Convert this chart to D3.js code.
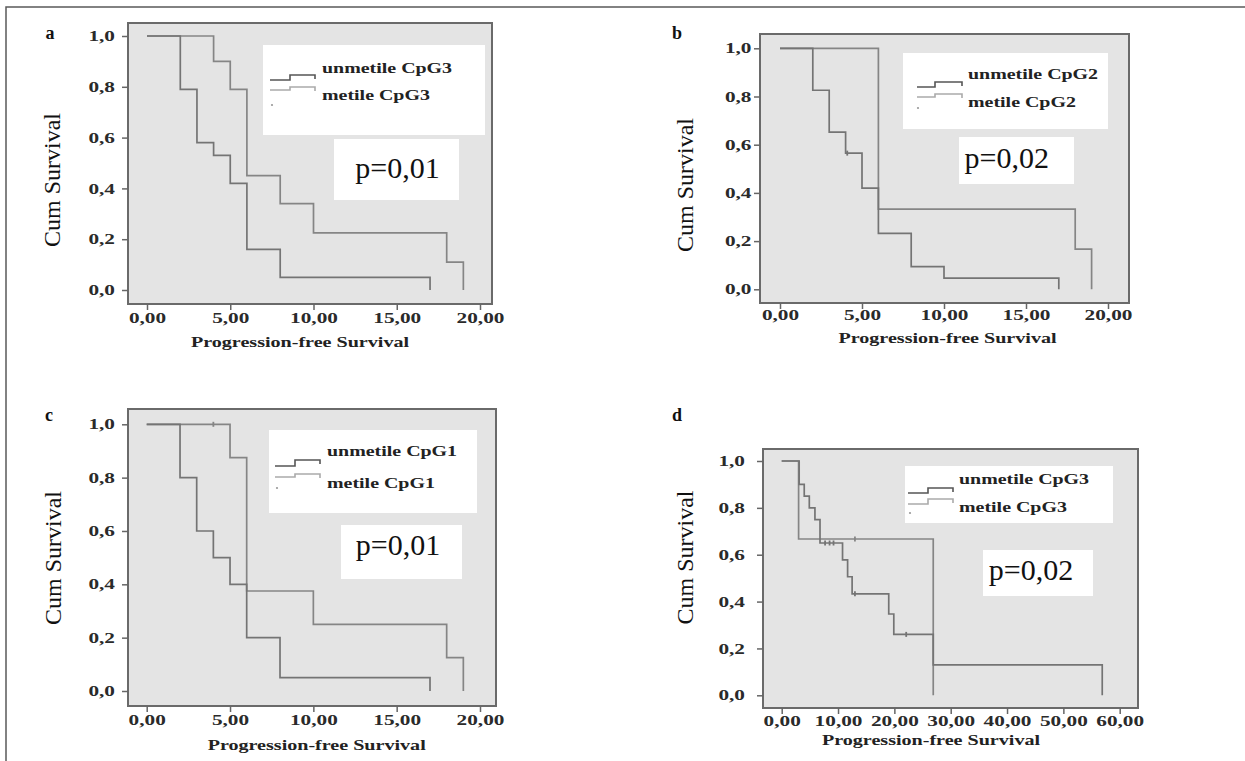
<!DOCTYPE html>
<html><head><meta charset="utf-8">
<script src="https://cdn.jsdelivr.net/npm/d3@7"></script>
<style>body{margin:0;background:#fff}svg{display:block}</style>
</head><body>
<svg id="chart" width="1245" height="761"></svg>
<script>
// ---------- DATA ----------
const panelIds = ["a", "b", "c", "d"];
const legendUnmet = ["unmetile CpG3", "unmetile CpG2", "unmetile CpG1", "unmetile CpG3"];
const legendMet = ["metile CpG3", "metile CpG2", "metile CpG1", "metile CpG3"];
const pLabels = ["p=0,01", "p=0,02", "p=0,01", "p=0,02"];
const yTicks = [0, 0.2, 0.4, 0.6, 0.8, 1.0];
const yTickLabels = ["0,0", "0,2", "0,4", "0,6", "0,8", "1,0"];
const xTicks20 = [0, 5, 10, 15, 20];
const xTickLabels20 = ["0,00", "5,00", "10,00", "15,00", "20,00"];
const xTicks60 = [0, 10, 20, 30, 40, 50, 60];
const xTickLabels60 = ["0,00", "10,00", "20,00", "30,00", "40,00", "50,00", "60,00"];
const xTitle = "Progression-free Survival";
const yTitle = "Cum Survival";

// panel a
const aUnmetTimes = [2, 3, 4, 5, 6, 8, 17];
const aUnmetSurv  = [0.79, 0.58, 0.53, 0.42, 0.16, 0.05, 0];
const aMetTimes   = [4, 5, 6, 8, 10, 18, 19];
const aMetSurv    = [0.90, 0.79, 0.45, 0.34, 0.225, 0.11, 0];
// panel b
const bUnmetTimes = [2, 3, 4, 5, 6, 8, 10, 17];
const bUnmetSurv  = [0.826, 0.652, 0.565, 0.42, 0.232, 0.094, 0.046, 0];
const bMetTimes   = [6, 18, 19];
const bMetSurv    = [0.333, 0.167, 0];
const bUnmetCensT = [4.1];
const bUnmetCensS = [0.565];
// panel c
const cUnmetTimes = [2, 3, 4, 5, 6, 8, 17];
const cUnmetSurv  = [0.8, 0.6, 0.5, 0.4, 0.2, 0.05, 0];
const cMetTimes   = [5, 6, 10, 18, 19];
const cMetSurv    = [0.875, 0.375, 0.25, 0.125, 0];
const cMetCensT   = [4];
const cMetCensS   = [1.0];
// panel d
const dUnmetTimes = [3.1, 4, 4.9, 5.9, 6.8, 10.8, 11.7, 12.5, 19, 19.9, 26.9, 56.9];
const dUnmetSurv  = [0.9, 0.85, 0.8, 0.75, 0.65, 0.578, 0.506, 0.433, 0.347, 0.26, 0.13, 0];
const dUnmetCensT = [7.7, 8.5, 9.2, 13.0, 22.1];
const dUnmetCensS = [0.65, 0.65, 0.65, 0.433, 0.26];
const dMetTimes   = [3.0, 26.9];
const dMetSurv    = [0.667, 0];
const dMetCensT   = [13.0];
const dMetCensS   = [0.667];

const series = {
  a: {unmet: [aUnmetTimes, aUnmetSurv, [], []], met: [aMetTimes, aMetSurv, [], []]},
  b: {unmet: [bUnmetTimes, bUnmetSurv, bUnmetCensT, bUnmetCensS], met: [bMetTimes, bMetSurv, [], []]},
  c: {unmet: [cUnmetTimes, cUnmetSurv, [], []], met: [cMetTimes, cMetSurv, cMetCensT, cMetCensS]},
  d: {unmet: [dUnmetTimes, dUnmetSurv, dUnmetCensT, dUnmetCensS], met: [dMetTimes, dMetSurv, dMetCensT, dMetCensS]}
};

// ---------- LAYOUT ----------
const layouts = {
  a: {frame:[128,23,492,304], xr:[147,480], yr:[290,36], xmax:20, letter:[50,39], ylab:[52,180],
      xtitle:[300,346.5], ygap:13, xlab:18.5,
      leg:[263,45,485,135], legTx:322, legB:[73,100], sym:[270,290,315], s1:[80,75], s2:[90,87], dot:[272,105],
      pbox:[334,139,459,200], ptx:[397.5,178]},
  b: {frame:[760,34,1129,303], xr:[780,1108], yr:[289.3,48.3], xmax:20, letter:[677,39], ylab:[685,185],
      xtitle:[947.5,343], ygap:8.5, xlab:17,
      leg:[903,53,1108,129], legTx:968, legB:[79,107], sym:[917,935,962], s1:[87,82], s2:[97,94], dot:[918,108],
      pbox:[959,137,1074,184], ptx:[1006.7,168]},
  c: {frame:[128,409,496,706], xr:[146.7,480], yr:[691,424.3], xmax:20, letter:[49,421], ylab:[52.5,558],
      xtitle:[316.7,750], ygap:13, xlab:18.5,
      leg:[269,430,477,513], legTx:327, legB:[456,488], sym:[275,295,320], s1:[466,460], s2:[477,474], dot:[277,488],
      pbox:[341,525,462,579], ptx:[398,555]},
  d: {frame:[763,449,1138,708], xr:[781.7,1119.7], yr:[695.3,461], xmax:60, letter:[677,421], ylab:[685,557.5],
      xtitle:[931,745], ygap:18, xlab:18,
      leg:[905,466,1113,523], legTx:959, legB:[484,512], sym:[908,928,953], s1:[493,488], s2:[504,499], dot:[910,513],
      pbox:[983,550,1093,596], ptx:[1031,580]}
};

const serif = '"Liberation Serif","Times New Roman",serif';
const svg = d3.select("#chart");

// outer border
svg.append("path").attr("d", "M6,761 V7 H1245").attr("fill", "none")
  .attr("stroke", "#5a5a5a").attr("stroke-width", 1.5);

panelIds.forEach((id, i) => {
  const L = layouts[id];
  const g = svg.append("g");
  const [fx0, fy0, fx1, fy1] = L.frame;
  const x = d3.scaleLinear().domain([0, L.xmax]).range(L.xr);
  const y = d3.scaleLinear().domain([0, 1]).range(L.yr);

  // plot background + frame
  g.append("rect").attr("x", fx0).attr("y", fy0).attr("width", fx1 - fx0).attr("height", fy1 - fy0)
    .attr("fill", "#e4e4e4").attr("stroke", "#6a6a6a").attr("stroke-width", 2);

  // axes
  const xt = id === "d" ? xTicks60 : xTicks20;
  const xl = id === "d" ? xTickLabels60 : xTickLabels20;
  const yAx = g.append("g").attr("transform", `translate(${fx0},0)`)
    .call(d3.axisLeft(y).tickValues(yTicks).tickFormat((d, k) => yTickLabels[k]).tickSize(6).tickSizeOuter(0));
  const xAx = g.append("g").attr("transform", `translate(0,${fy1})`)
    .call(d3.axisBottom(x).tickValues(xt).tickFormat((d, k) => xl[k]).tickSize(6).tickSizeOuter(0));
  [yAx, xAx].forEach(a => {
    a.select(".domain").remove();
    a.selectAll(".tick line").attr("stroke", "#666").attr("stroke-width", 1.5);
    a.selectAll("text").attr("font-family", serif).attr("font-weight", "bold")
      .attr("font-size", 14).attr("fill", "#2a2a2a");
  });
  yAx.selectAll("text").attr("x", 0).attr("dy", "0.33em")
    .attr("transform", `translate(${-L.ygap},0) scale(1.52,1)`);
  xAx.selectAll("text").attr("y", 0).attr("dy", 0)
    .attr("transform", `translate(0,${L.xlab}) scale(1.52,1)`);

  // legend box
  const [lx0, ly0, lx1, ly1] = L.leg;
  g.append("rect").attr("x", lx0).attr("y", ly0).attr("width", lx1 - lx0).attr("height", ly1 - ly0).attr("fill", "#fff");
  const [sx0, sxm, sx1] = L.sym;
  g.append("path").attr("d", `M${sx0},${L.s1[0]} H${sxm} V${L.s1[1]} H${sx1} V${L.s1[1] + 4}`)
    .attr("fill", "none").attr("stroke", "#555").attr("stroke-width", 1.6);
  g.append("path").attr("d", `M${sx0},${L.s2[0]} H${sxm} V${L.s2[1]} H${sx1} V${L.s2[1] + 4}`)
    .attr("fill", "none").attr("stroke", "#aaa").attr("stroke-width", 1.6);
  g.append("circle").attr("cx", L.dot[0]).attr("cy", L.dot[1]).attr("r", 1.1).attr("fill", "#999");
  [legendUnmet[i], legendMet[i]].forEach((t, k) => {
    g.append("text").attr("font-family", serif).attr("font-weight", "bold").attr("font-size", 15)
      .attr("fill", "#222")
      .attr("transform", `translate(${L.legTx},${L.legB[k]}) scale(1.33,1)`).text(t);
  });

  // p-value box
  const [px0, py0, px1, py1] = L.pbox;
  g.append("rect").attr("x", px0).attr("y", py0).attr("width", px1 - px0).attr("height", py1 - py0).attr("fill", "#fff");
  g.append("text").attr("x", L.ptx[0]).attr("y", L.ptx[1]).attr("text-anchor", "middle")
    .attr("font-family", serif).attr("font-size", 30).attr("fill", "#111").text(pLabels[i]);

  // survival curves
  const line = d3.line().x(d => x(d[0])).y(d => y(d[1])).curve(d3.curveStepAfter);
  const cols = {unmet: "#747474", met: "#858585"};
  ["met", "unmet"].forEach(key => {
    const [T, S, CT, CS] = series[id][key];
    const pts = [[0, 1]].concat(T.map((t, k) => [t, S[k]]));
    g.append("path").attr("d", line(pts)).attr("fill", "none")
      .attr("stroke", cols[key]).attr("stroke-width", 1.7);
    CT.forEach((t, k) => {
      g.append("line").attr("x1", x(t)).attr("x2", x(t)).attr("y1", y(CS[k]) - 2.5).attr("y2", y(CS[k]) + 2.5)
        .attr("stroke", cols[key]).attr("stroke-width", 1.8);
    });
  });

  // titles
  g.append("text").attr("x", L.letter[0]).attr("y", L.letter[1]).attr("text-anchor", "middle")
    .attr("font-family", serif).attr("font-weight", "bold").attr("font-size", 18).attr("fill", "#111").text(id);
  g.append("text").attr("transform", `translate(${L.ylab[0] + 8},${L.ylab[1]}) rotate(-90)`)
    .attr("text-anchor", "middle").attr("font-family", serif).attr("font-size", 24).attr("fill", "#111").text(yTitle);
  g.append("text").attr("transform", `translate(${L.xtitle[0]},${L.xtitle[1]}) scale(1.34,1)`)
    .attr("text-anchor", "middle").attr("font-family", serif).attr("font-weight", "bold")
    .attr("font-size", 15).attr("fill", "#222").text(xTitle);
});
</script>
</body></html>
